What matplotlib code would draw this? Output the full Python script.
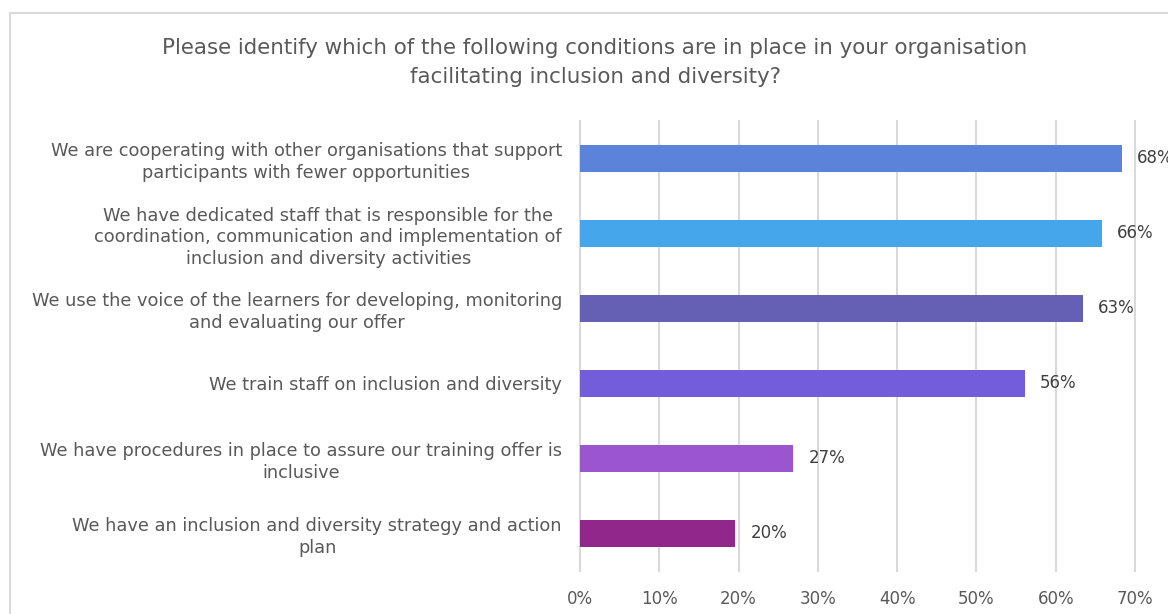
import matplotlib.pyplot as plt
from matplotlib.patches import Rectangle
from matplotlib.ticker import PercentFormatter

conditions = [
    "We are cooperating with other organisations that support\nparticipants with fewer opportunities",
    "We have dedicated staff that is responsible for the\ncoordination, communication and implementation of\ninclusion and diversity activities",
    "We use the voice of the learners for developing, monitoring\nand evaluating our offer",
    "We train staff on inclusion and diversity",
    "We have procedures in place to assure our training offer is\ninclusive",
    "We have an inclusion and diversity strategy and action\nplan",
]
shares = [0.683, 0.658, 0.634, 0.561, 0.269, 0.196]
bar_colors = ["#5a83d9", "#45a6ec", "#6660b5", "#745dd8", "#9b55cf", "#92278b"]
title = ("Please identify which of the following conditions are in place in your organisation\n"
         "facilitating inclusion and diversity?")

plt.rcParams['font.family'] = ['DejaVu Sans']

fig = plt.figure(figsize=(11.68, 6.14), dpi=100)
ax = fig.add_axes([580 / 1168, 1 - 570.5 / 614, 555 / 1168, 449.5 / 614])

ypos = list(range(len(conditions)))
ax.barh(ypos, shares, height=0.36, color=bar_colors, zorder=3)
ax.set_ylim(len(conditions) - 0.5, -0.5)
ax.set_xlim(0, 0.7)
ax.set_xticks([i / 10 for i in range(8)])
ax.xaxis.set_major_formatter(PercentFormatter(1.0, decimals=0))
ax.set_yticks(ypos)
ax.set_yticklabels(conditions, multialignment='center', linespacing=1.25)

for y, v in zip(ypos, shares):
    ax.text(v + 0.019, y, f"{round(v * 100):.0f}%", va='center', ha='left',
            fontsize=12, color='#404040', clip_on=False)

ax.grid(axis='x', color='#d9d9d9', linewidth=1.5, zorder=0)
for line in ax.get_xgridlines():
    line.set_clip_on(False)
for s in ax.spines.values():
    s.set_visible(False)
ax.tick_params(axis='y', length=0, pad=13, labelsize=12.8, labelcolor='#595959')
ax.tick_params(axis='x', length=0, pad=14, labelsize=12, labelcolor='#595959')

fig.text(595 / 1168, 1 - 62.5 / 614, title, ha='center', va='center',
         fontsize=15.4, color='#595959', linespacing=1.6)

# light chart border, partly off the canvas
fig.patches.append(Rectangle((10 / 1168, -0.1), 1.2, 1.1 - 13 / 614,
                             transform=fig.transFigure, fill=False,
                             edgecolor='#d9d9d9', linewidth=1.5))

fig.savefig("out.png", dpi=100)
